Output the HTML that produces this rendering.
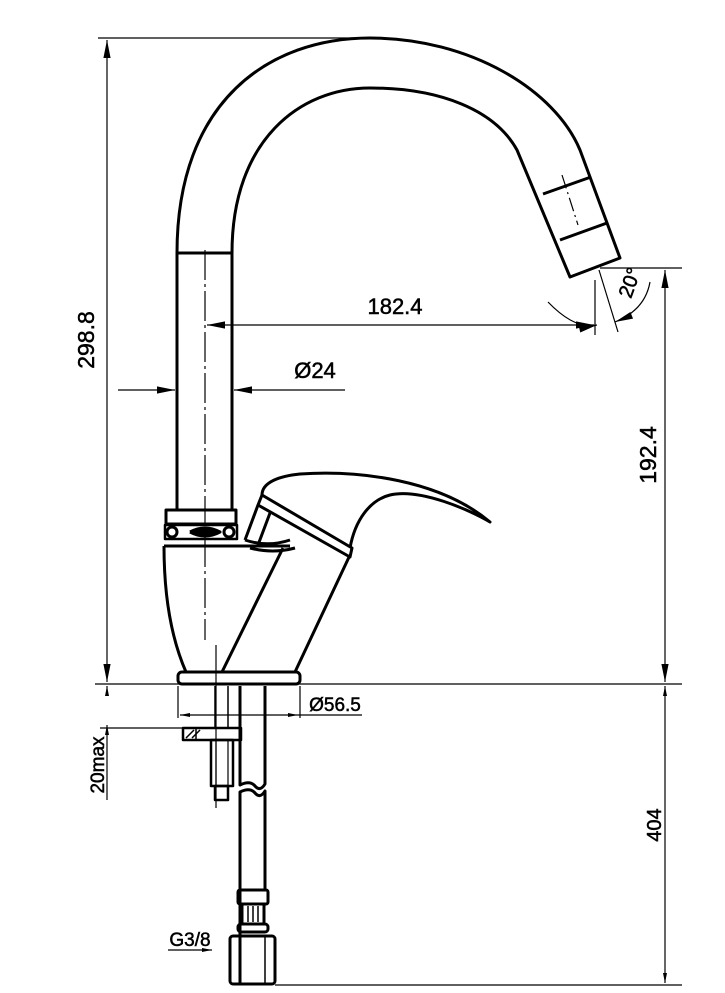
<!DOCTYPE html>
<html><head><meta charset="utf-8"><style>
html,body{margin:0;padding:0;background:#fff}
svg{display:block}
text{font-family:"Liberation Sans",Arial,sans-serif;fill:#000;stroke:#000;stroke-width:0.5}
</style></head><body>
<svg width="725" height="993" viewBox="0 0 725 993" xmlns="http://www.w3.org/2000/svg">
<defs>
<marker id="a" viewBox="0 0 10 10" refX="10" refY="5" markerWidth="10" markerHeight="10" orient="auto-start-reverse" markerUnits="userSpaceOnUse"><path d="M0,3 L10,5 L0,7 z" fill="#000"/></marker>
<marker id="b" viewBox="0 0 20 10" refX="20" refY="5" markerWidth="20" markerHeight="9" orient="auto-start-reverse" markerUnits="userSpaceOnUse"><path d="M0,1 L20,5 L0,9 z" fill="#000"/></marker>
</defs>
<g fill="none" stroke="#000" stroke-width="1.2">
<line x1="98" y1="38" x2="372" y2="38"/>
<line x1="107" y1="40" x2="107" y2="682" marker-start="url(#b)" marker-end="url(#b)"/>
<line x1="95" y1="684" x2="682" y2="684"/>
<line x1="100" y1="728" x2="185" y2="728"/>
<line x1="107" y1="686" x2="107" y2="695" marker-start="url(#a)"/>
<line x1="107" y1="725" x2="107" y2="800" marker-start="url(#a)"/>
<line x1="600" y1="268" x2="682" y2="268"/>
<line x1="665" y1="270" x2="665" y2="682" marker-start="url(#b)" marker-end="url(#b)"/>
<line x1="665" y1="686" x2="665" y2="983" marker-start="url(#a)" marker-end="url(#a)"/>
<line x1="275" y1="985" x2="682" y2="985"/>
<line x1="207" y1="325" x2="594" y2="325" marker-start="url(#b)" marker-end="url(#b)"/>
<line x1="118" y1="390" x2="175" y2="390" marker-end="url(#b)"/>
<line x1="345" y1="390" x2="234" y2="390" marker-end="url(#b)"/>
<line x1="178" y1="686" x2="178" y2="718"/>
<line x1="300" y1="686" x2="300" y2="718"/>
<line x1="180" y1="715" x2="298" y2="715" marker-start="url(#a)" marker-end="url(#a)"/>
<line x1="298" y1="715" x2="362" y2="715"/>
<line x1="168" y1="950" x2="212" y2="950" marker-end="url(#a)"/>
<line x1="595" y1="280" x2="595" y2="335"/>
<line x1="599" y1="270" x2="618" y2="332"/>
<path d="M548,302 Q575,330 597,325" marker-end="url(#b)"/>
<path d="M650,282 Q645,310 615,322" marker-end="url(#b)"/>
<line x1="205" y1="250" x2="205" y2="640" stroke-dasharray="30,4,3,4"/>
<line x1="216" y1="645" x2="216" y2="808"/>
<line x1="562" y1="175" x2="578" y2="225" stroke-dasharray="14,4,2,4"/>
</g>
<g fill="none" stroke="#000" stroke-width="3" stroke-linejoin="round">
<path d="M177,510 L177,253 C177,100 270,38 370,38 C470,38 555,90 580,150 L620,258 L570,277 L517,150 C495,110 440,88 370,88 C300,88 232,140 232,253 L232,510"/>
<line x1="177" y1="253" x2="232" y2="253"/>
<line x1="543" y1="194" x2="591" y2="177"/>
<line x1="560" y1="240" x2="607" y2="223"/>
<rect x="166" y="510" width="70" height="14"/>
<rect x="165" y="525" width="72" height="14" stroke-width="2.5"/>
<circle cx="172" cy="532" r="5" fill="#fff"/>
<circle cx="229" cy="532" r="5" fill="#fff"/>
<path d="M190,532 Q205,524 220,532 Q205,540 190,532" fill="#000"/>
<path d="M164,546 L290,546 M164,546 C164,600 172,640 186,672 M350,555 L295,672"/>
<line x1="283" y1="548" x2="222" y2="672"/>
<rect x="178" y="672" width="122" height="12" rx="4"/>
<path d="M262,495 C262,482 280,476 300,474 C360,470 440,480 490,522 C470,510 420,488 390,495 C370,500 355,520 350,548"/>
<path d="M262,495 L352,548 L350,557 L258,505 Z" fill="#fff"/>
<path d="M258,505 L245,540 M270,513 L258,545 M245,540 C260,545 275,545 290,540"/>
<path d="M250,548 C265,552 280,552 295,548"/>
<rect x="183" y="728" width="58" height="12" stroke-width="2.5"/>
<path d="M186,738 L194,730 M192,738 L200,730" stroke-width="1.5"/>
<line x1="196" y1="728" x2="196" y2="740" stroke-width="1.5"/>
<rect x="211" y="740" width="22" height="46" stroke-width="2.5"/>
<line x1="216" y1="740" x2="216" y2="786" stroke-width="1.2"/>
<line x1="228" y1="740" x2="228" y2="786" stroke-width="1.2"/>
<rect x="215" y="786" width="13" height="14" stroke-width="2.5"/>
<line x1="215" y1="686" x2="215" y2="728" stroke-width="1.5"/>
<line x1="228" y1="686" x2="228" y2="728" stroke-width="1.5"/>
<path d="M240,686 L240,785 Q250,780 255,786 T265,784 L265,686"/>
<path d="M240,985 L240,792 Q250,787 255,793 T265,791 L265,890"/>
<rect x="238" y="890" width="30" height="14" rx="2"/>
<rect x="242" y="904" width="22" height="20" fill="#fff"/>
<line x1="248" y1="906" x2="248" y2="922" stroke-width="1.5"/>
<line x1="253" y1="906" x2="253" y2="922" stroke-width="1.5"/>
<line x1="258" y1="906" x2="258" y2="922" stroke-width="1.5"/>
<rect x="238" y="924" width="30" height="8" rx="3"/>
<rect x="230" y="936" width="45" height="48" rx="3"/>
<line x1="240" y1="936" x2="240" y2="984" stroke-width="1.5"/>
<line x1="265" y1="936" x2="265" y2="984" stroke-width="1.5"/>
</g>
<text x="395" y="314" font-size="22" text-anchor="middle">182.4</text>
<text x="315" y="378" font-size="22" text-anchor="middle">Ø24</text>
<text x="335" y="711" font-size="19" text-anchor="middle">Ø56.5</text>
<text x="190" y="946" font-size="19" text-anchor="middle">G3/8</text>
<text transform="translate(94,340) rotate(-90)" font-size="23" text-anchor="middle">298.8</text>
<text transform="translate(656,455) rotate(-90)" font-size="23" text-anchor="middle">192.4</text>
<text transform="translate(661,825) rotate(-90)" font-size="20" text-anchor="middle">404</text>
<text transform="translate(104,765) rotate(-90)" font-size="19" text-anchor="middle">20max</text>
<text transform="translate(636,285) rotate(-70)" font-size="20" text-anchor="middle">20°</text>
</svg>
</body></html>
